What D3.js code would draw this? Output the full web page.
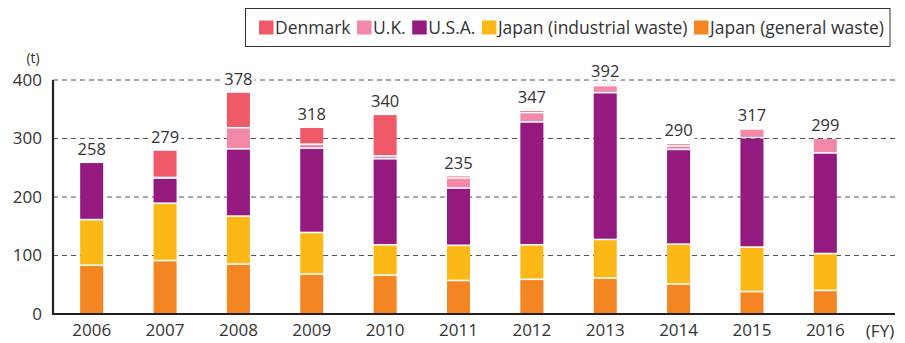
<!DOCTYPE html>
<html>
<head>
<meta charset="utf-8">
<script src="https://cdn.jsdelivr.net/npm/d3@7"></script>
<style>
  html, body { margin: 0; padding: 0; background: #fff; }
  svg { display: block; font-family: "Open Sans", "Noto Sans", sans-serif; }
</style>
</head>
<body>
<svg id="chart" width="905" height="343"></svg>
<script>
// Fiscal years
const years = ["2006", "2007", "2008", "2009", "2010", "2011", "2012", "2013", "2014", "2015", "2016"];

// Tonnes by source, stacked from the bottom up
const japanGeneral    = [82, 90, 84, 67, 65, 56, 58, 60, 50, 37, 39];
const japanIndustrial = [78, 98, 82, 71, 52, 60, 59, 66, 68, 76, 63];
const usa             = [98, 43, 115, 144, 147, 98, 210, 251, 162, 187, 172];
const uk              = [0, 1, 36, 7, 5, 17, 16, 12, 6, 15, 25];
const denmark         = [0, 47, 61, 29, 71, 4, 4, 3, 4, 2, 0];

const yTicks = [0, 100, 200, 300, 400];

const seriesNames  = ["Japan (general waste)", "Japan (industrial waste)", "U.S.A.", "U.K.", "Denmark"];
const seriesValues = [japanGeneral, japanIndustrial, usa, uk, denmark];
const seriesColors = ["#f38522", "#fbb817", "#941a80", "#f388a8", "#f05a68"];

const table = years.map((yr, i) => {
  const row = { year: yr };
  seriesNames.forEach((n, k) => { row[n] = seriesValues[k][i]; });
  return row;
});

const svg = d3.select("#chart");

const x = d3.scaleBand()
  .domain(years)
  .range([55, 862])
  .paddingInner(0.686)
  .paddingOuter(0.343);

const y = d3.scaleLinear().domain([0, 400]).range([314, 80]);

// Dashed gridlines
svg.append("g")
  .selectAll("line")
  .data(yTicks.filter(t => t > 0))
  .join("line")
  .attr("x1", 53).attr("x2", 895)
  .attr("y1", d => y(d)).attr("y2", d => y(d))
  .attr("stroke", "#555")
  .attr("stroke-width", 1)
  .attr("stroke-dasharray", "5,4");

// Stacked bars, with a thin white gap between segments
const stack = d3.stack().keys(seriesNames);
const layers = stack(table);

const barG = svg.append("g");
layers.forEach((layer, k) => {
  barG.append("g")
    .attr("fill", seriesColors[k])
    .selectAll("rect")
    .data(layer.filter(d => d[1] - d[0] > 0))
    .join("rect")
    .attr("x", d => x(d.data.year))
    .attr("width", x.bandwidth())
    .attr("y", d => y(d[1]))
    .attr("height", d => {
      const h = y(d[0]) - y(d[1]);
      return d[0] > 0 ? Math.max(0, h - 1.6) : h;
    });
});

// Axes
const yAxis = d3.axisLeft(y).tickValues(yTicks).tickSize(0).tickPadding(11);
const yg = svg.append("g").attr("transform", "translate(53,0)").call(yAxis);
yg.select(".domain").remove();
yg.selectAll("text")
  .attr("font-size", 17)
  .attr("fill", "#333")
  .attr("font-family", "'Open Sans', sans-serif");

const xAxis = d3.axisBottom(x).tickSize(0).tickPadding(10);
const xg = svg.append("g").attr("transform", "translate(0,314)").call(xAxis);
xg.select(".domain").remove();
xg.selectAll("text")
  .attr("font-size", 17)
  .attr("fill", "#333")
  .attr("font-family", "'Open Sans', sans-serif");

svg.append("line")
  .attr("x1", 53).attr("x2", 53).attr("y1", 80).attr("y2", 315)
  .attr("stroke", "#231f20").attr("stroke-width", 2.2);
svg.append("line")
  .attr("x1", 52).attr("x2", 895).attr("y1", 314).attr("y2", 314)
  .attr("stroke", "#231f20").attr("stroke-width", 2.2);

// Unit labels
svg.append("text").attr("x", 33).attr("y", 63).attr("text-anchor", "middle")
  .attr("font-size", 14).attr("fill", "#333").text("(t)");
svg.append("text").attr("x", 880).attr("y", 337).attr("text-anchor", "middle")
  .attr("font-size", 17).attr("fill", "#333").text("(FY)");

// Totals above each bar, on a white backing
const totalsG = svg.append("g");
table.forEach(row => {
  const total = d3.sum(seriesNames, n => row[n]);
  const cx = x(row.year) + x.bandwidth() / 2;
  const ty = y(total) - 8;
  const t = totalsG.append("text")
    .attr("x", cx).attr("y", ty)
    .attr("text-anchor", "middle")
    .attr("font-size", 16.5)
    .attr("fill", "#333")
    .text(total);
  const bb = t.node().getBBox();
  totalsG.insert("rect", () => t.node())
    .attr("x", bb.x - 2).attr("y", bb.y + 2)
    .attr("width", bb.width + 4).attr("height", bb.height - 4)
    .attr("fill", "#fff");
});

// Legend
const legend = svg.append("g");
legend.append("rect")
  .attr("x", 245.5).attr("y", 8.5).attr("width", 644.5).attr("height", 38)
  .attr("fill", "#fff").attr("stroke", "#333").attr("stroke-width", 1);

const legendOrder = [4, 3, 2, 1, 0];
let lx = 259;
legendOrder.forEach(k => {
  legend.append("rect")
    .attr("x", lx).attr("y", 20.5).attr("width", 14.5).attr("height", 14)
    .attr("fill", seriesColors[k]);
  const t = legend.append("text")
    .attr("x", lx + 16).attr("y", 34)
    .attr("font-size", 17.5)
    .attr("fill", "#333")
    .text(seriesNames[k]);
  lx += 16 + t.node().getComputedTextLength() + 6.5;
});
</script>
</body>
</html>
